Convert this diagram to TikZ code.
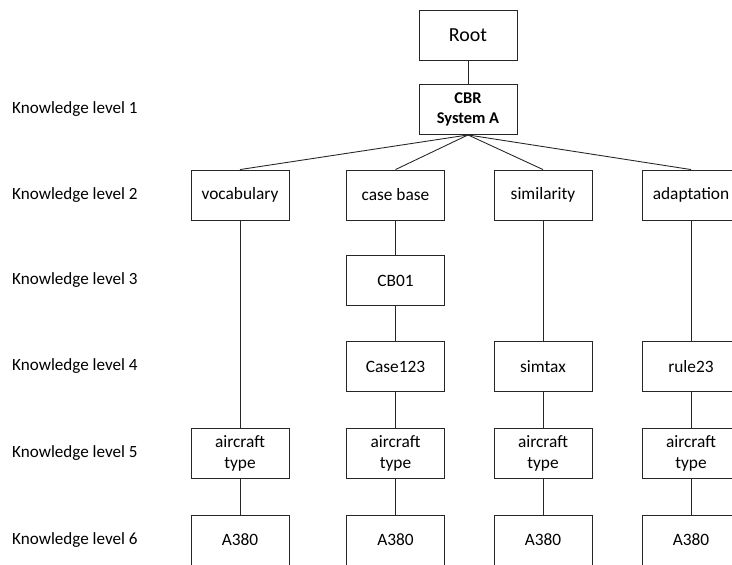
\documentclass[tikz,border=0pt]{standalone}
\usepackage{fontspec}
\setmainfont{Carlito}
\usetikzlibrary{positioning}
\definecolor{edgegray}{HTML}{262626}

\begin{document}
\begin{tikzpicture}[
  x=0.03cm, y=-0.03cm,
  box/.style={
    draw=edgegray,
    line width=0.75pt,
    minimum width=2.94cm,
    minimum height=1.5cm,
    inner sep=1pt,
    align=center,
    font=\fontsize{14.8}{18.5}\selectfont,
  },
  line/.style={
    line width=0.75pt,
    draw=edgegray,
  }]
  \useasboundingbox (0,0) rectangle (732,565);
  % tree
  \node[box, font=\fontsize{17}{19}\selectfont] (root) at (468,35) {Root};
  \node[box, font=\bfseries\fontsize{14}{17.5}\selectfont] (cbr) at (468,109.5) {CBR\\System A};
  \node[box] (voc) at (240,195) {vocabulary};
  \node[box] (cb) at (395.5,195) {case base};
  \node[box] (sim) at (543,195) {similarity};
  \node[box] (ada) at (691,195) {adaptation};
  \node[box] (cbzo) at (395.5,280.5) {CB01};
  \node[box] (case) at (395.5,366.5) {Case123};
  \node[box] (simtax) at (543,366.5) {simtax};
  \node[box] (rule) at (691,366.5) {rule23};
  \foreach \x/\n in {240/voc, 395.5/cb, 543/sim, 691/ada}
  {
    \node[box] (type\n) at (\x,453.5) {aircraft\\type};
    \node[box] (plane\n) at (\x,540) {A380};
    \draw[line] (type\n) -- (plane\n);
    \draw[line] (cbr.south) -- (\n.north);
  }
  \draw[line] (root) -- (cbr);
  \draw[line] (voc) -- (typevoc);
  \draw[line] (cb) -- (cbzo) -- (case) -- (typecb);
  \draw[line] (sim) -- (simtax) -- (typesim);
  \draw[line] (ada) -- (rule) -- (typeada);
  % level labels
  \foreach \y/\A in {109.5/1, 195/2, 280.5/3, 366.5/4, 453.5/5, 540/6}
  {
    \node[anchor=west, inner sep=0pt, font=\fontsize{14.6}{17}\selectfont] (lvl\A) at (12,\y) {Knowledge level \A};
  }
\end{tikzpicture}
\end{document}
